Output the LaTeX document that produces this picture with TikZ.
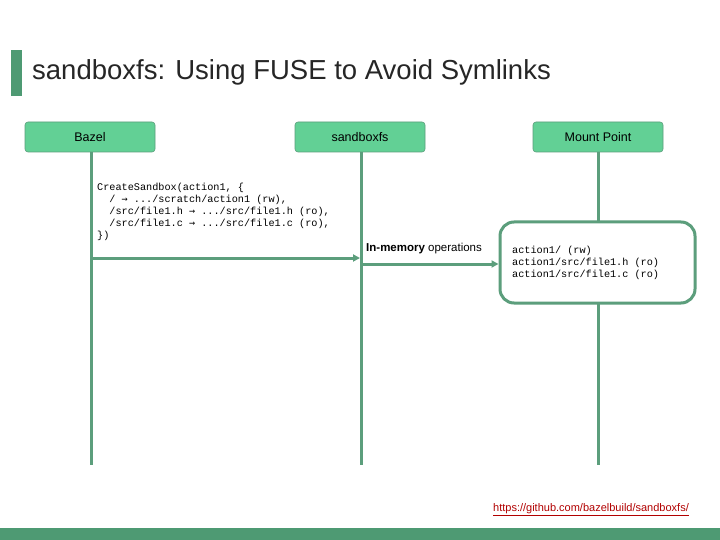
\documentclass[tikz,border=0pt]{standalone}
\usepackage{fontspec}
\setmainfont{Liberation Sans}
\newfontfamily\codefont{Liberation Mono}
\newfontfamily\arrfont{DejaVu Sans Mono}
\usetikzlibrary{arrows.meta}
\definecolor{boxfill}{HTML}{62D095}
\definecolor{linec}{HTML}{5C9E7C}
\definecolor{barc}{HTML}{4E9A73}
\tikzset{
  x=1pt,y=-1pt,
  head/.style={draw=linec,fill=boxfill,rounded corners=3pt,minimum width=130pt,minimum height=30pt,font=\fontsize{12.5}{14}\selectfont,line width=0.6pt},
  life/.style={draw=linec,line width=3pt},
  msg/.style={draw=linec,line width=3pt,-{Triangle[length=7pt,width=7pt]}},
  code/.style={align=left,font=\codefont\fontsize{10.2}{12}\selectfont,inner sep=0pt,anchor=north west}
}
\newcommand{\ar}{{\arrfont→}}
\begin{document}
\begin{tikzpicture}
\useasboundingbox (0,0) rectangle (720,540);
\fill[white] (0,0) rectangle (720,540);
\fill[barc] (11,50) rectangle (22,96);
\node[anchor=west,inner sep=0pt,font=\fontsize{27.5}{30}\selectfont,text=black!85] (title) at (32,72) {sandboxfs: Using FUSE to Avoid Symlinks};
\node[head] (bazel) at (90,137) {Bazel};
\node[head] (sfs) at (360,137) {sandboxfs};
\node[head] (mp) at (598,137) {Mount Point};
\coordinate (be) at (91,465);
\coordinate (se) at (361,465);
\coordinate (me) at (598,465);
\draw[life] (bazel.south -| be) -- (be);
\draw[life] (sfs.south -| se) -- (se);
\draw[life] (mp.south -| me) -- (me);
\node[draw=linec,line width=3pt,fill=white,rounded corners=14pt,minimum width=195pt,minimum height=81pt] (mb) at (597.5,262.5) {};
\node[code] (c1) at (97,183) {CreateSandbox(action1, \{\\
\ \ / \ar{} .../scratch/action1 (rw),\\
\ \ /src/file1.h \ar{} .../src/file1.h (ro),\\
\ \ /src/file1.c \ar{} .../src/file1.c (ro),\\
\})};
\coordinate (a1) at (91,258);
\coordinate (a2) at (361,264);
\draw[msg] (a1) -- (a1 -| sfs.south);
\draw[msg] (a2) -- (a2 -| mb.west);
\node[anchor=west,inner sep=0pt,font=\fontsize{11.5}{13}\selectfont] (im) at (366,249) {\textbf{In-memory} operations};
\node[code,anchor=west] (c2) at (512,263) {action1/ (rw)\\action1/src/file1.h (ro)\\action1/src/file1.c (ro)};
\fill[barc] (0,528) rectangle (720,540);
\node[font=\fontsize{11}{12}\selectfont,text=red!70!black,inner sep=0pt] (link) at (591,510) {\underline{https://github.com/bazelbuild/sandboxfs/}};
\end{tikzpicture}
\end{document}
